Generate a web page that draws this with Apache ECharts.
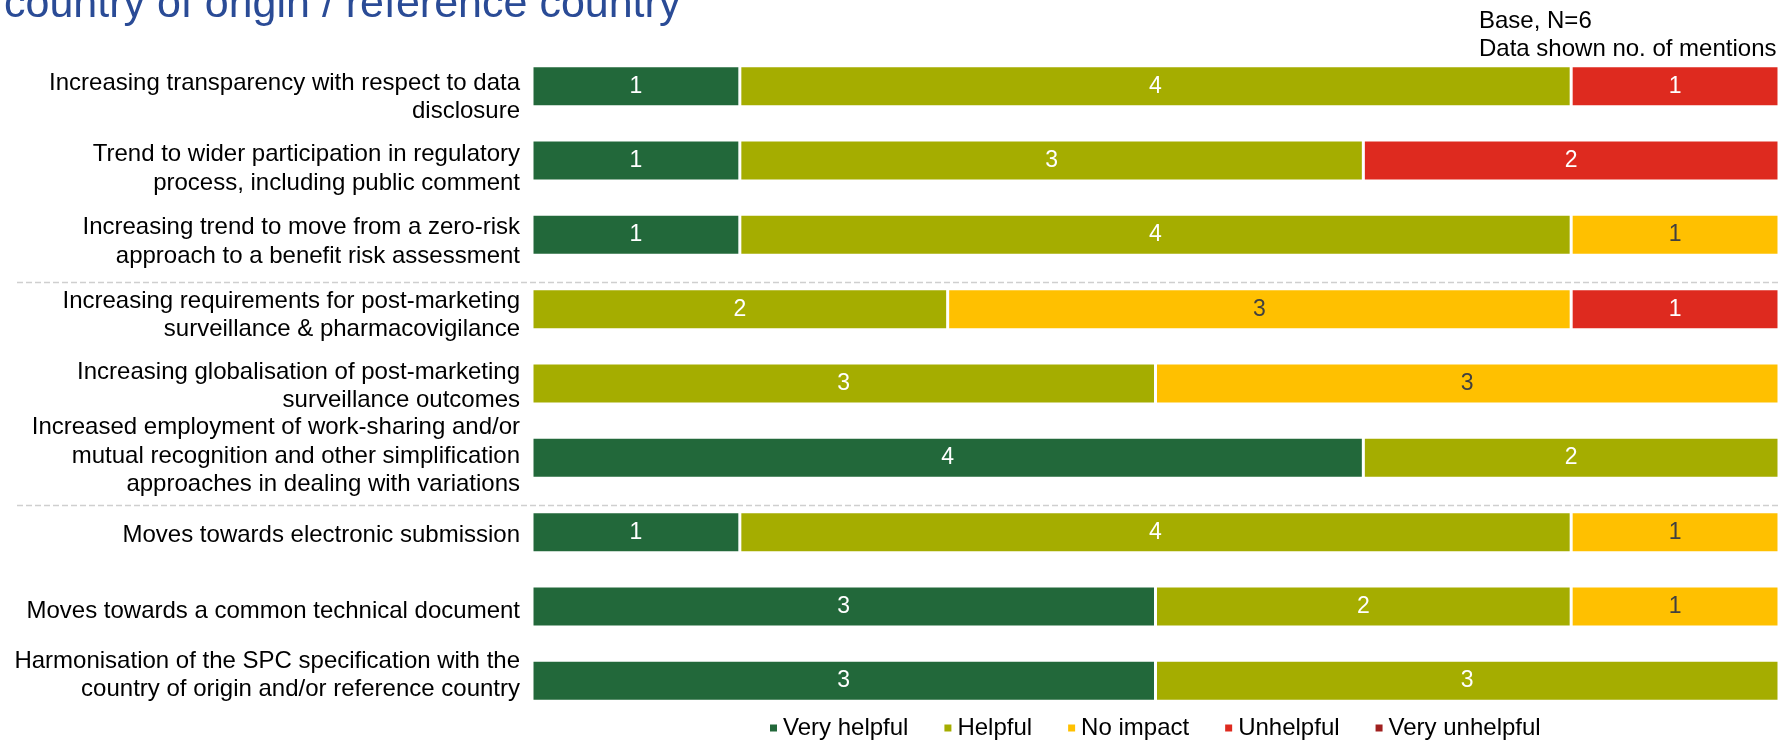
<!DOCTYPE html>
<html>
<head>
<meta charset="utf-8">
<script src="https://cdn.jsdelivr.net/npm/echarts@6/dist/echarts.min.js"></script>
<style>
html,body{margin:0;padding:0;background:#fff;}
#chart{width:1779px;height:741px;}
</style>
</head>
<body>
<div id="chart"></div>
<script>
const categories = [
  'Increasing transparency with respect to data\ndisclosure',
  'Trend to wider participation in regulatory\nprocess, including public comment',
  'Increasing trend to move from a zero-risk\napproach to a benefit risk assessment',
  'Increasing requirements for post-marketing\nsurveillance & pharmacovigilance',
  'Increasing globalisation of post-marketing\nsurveillance outcomes',
  'Increased employment of work-sharing and/or\nmutual recognition and other simplification\napproaches in dealing with variations',
  'Moves towards electronic submission',
  'Moves towards a common technical document',
  'Harmonisation of the SPC specification with the\ncountry of origin and/or reference country'
];
const veryHelpful   = [1, 1, 1, 0, 0, 4, 1, 3, 3];
const helpful       = [4, 3, 4, 2, 3, 2, 4, 2, 3];
const noImpact      = [0, 0, 1, 3, 3, 0, 1, 1, 0];
const unhelpful     = [1, 2, 0, 1, 0, 0, 0, 0, 0];
const veryUnhelpful = [0, 0, 0, 0, 0, 0, 0, 0, 0];
const seriesNames = ['Very helpful', 'Helpful', 'No impact', 'Unhelpful', 'Very unhelpful'];
const titleText = 'country of origin / reference country';
const noteText = 'Base, N=6\nData shown no. of mentions';
const separatorsAfter = [2, 5];

const FONT = "'Liberation Sans', Arial, Helvetica, sans-serif";
const colors = ['#22683A', '#A5AD00', '#FFC000', '#DE2A1F', '#A0201F'];
const labelColors = ['#ffffff', '#ffffff', '#404040', '#ffffff', '#ffffff'];
const seriesData = [veryHelpful, helpful, noImpact, unhelpful, veryUnhelpful];

// the category text boxes in the original sit slightly off their bars' centres (vertical nudge, px)
const labelNudge = [11, 8.5, 7, 6, 3, -1.5, 3.5, 5, -5.5];

const chart = echarts.init(document.getElementById('chart'), null, {renderer: 'canvas'});

const option = {
  animation: false,
  backgroundColor: '#ffffff',
  color: colors,
  title: [
    {
      text: titleText, left: 4, top: -18, padding: 0,
      textStyle: {fontFamily: FONT, fontSize: 43, lineHeight: 46, fontWeight: 'normal', color: '#2A4B96'}
    },
    {
      text: noteText, left: 1479, top: 7, padding: 0,
      textStyle: {fontFamily: FONT, fontSize: 24, lineHeight: 28, fontWeight: 'normal', color: '#000000'}
    }
  ],
  legend: {
    data: seriesNames,
    left: 768, top: 716, padding: 0,
    itemWidth: 9, itemHeight: 9, itemGap: 34,
    icon: 'rect',
    textStyle: {fontFamily: FONT, fontSize: 24, color: '#000000'}
  },
  grid: {left: 532, right: 0, top: 49, bottom: 23, containLabel: false},
  xAxis: {
    type: 'value', min: 0, max: 6, show: false
  },
  yAxis: {
    type: 'category', data: categories, inverse: true,
    axisLine: {show: false}, axisTick: {show: false}, splitLine: {show: false},
    axisLabel: {show: false}
  },
  series: seriesNames.map((name, i) => ({
    name: name,
    type: 'bar',
    stack: 'total',
    barWidth: 41,
    data: seriesData[i],
    itemStyle: {color: colors[i], borderColor: '#ffffff', borderWidth: 1.5},
    label: {
      show: true, position: 'inside',
      fontFamily: FONT, fontSize: 23, color: labelColors[i],
      formatter: p => (p.value > 0 ? String(p.value) : '')
    }
  }))
};
chart.setOption(option);

const gridLeft = 532;
const graphics = [];
// category labels, placed from the category axis
categories.forEach((c, i) => {
  const yc = chart.convertToPixel({yAxisIndex: 0}, i);
  graphics.push({
    type: 'text',
    silent: true,
    style: {
      text: c,
      x: gridLeft - 12,
      y: yc + labelNudge[i],
      textAlign: 'right',
      textVerticalAlign: 'middle',
      verticalAlign: 'middle',
      font: "24px " + FONT,
      lineHeight: 28.5,
      fill: '#000000'
    }
  });
});
// dashed separators between groups of rows
separatorsAfter.forEach(idx => {
  const y1 = chart.convertToPixel({yAxisIndex: 0}, idx);
  const y2 = chart.convertToPixel({yAxisIndex: 0}, idx + 1);
  const y = Math.round((y1 + y2) / 2 + 10) + 0.5;
  graphics.push({
    type: 'line',
    silent: true,
    shape: {x1: 17, y1: y, x2: 1779, y2: y},
    style: {stroke: '#CFCFCF', lineWidth: 1.5, lineDash: [6, 3]}
  });
});
chart.setOption({graphic: graphics});
</script>
</body>
</html>
